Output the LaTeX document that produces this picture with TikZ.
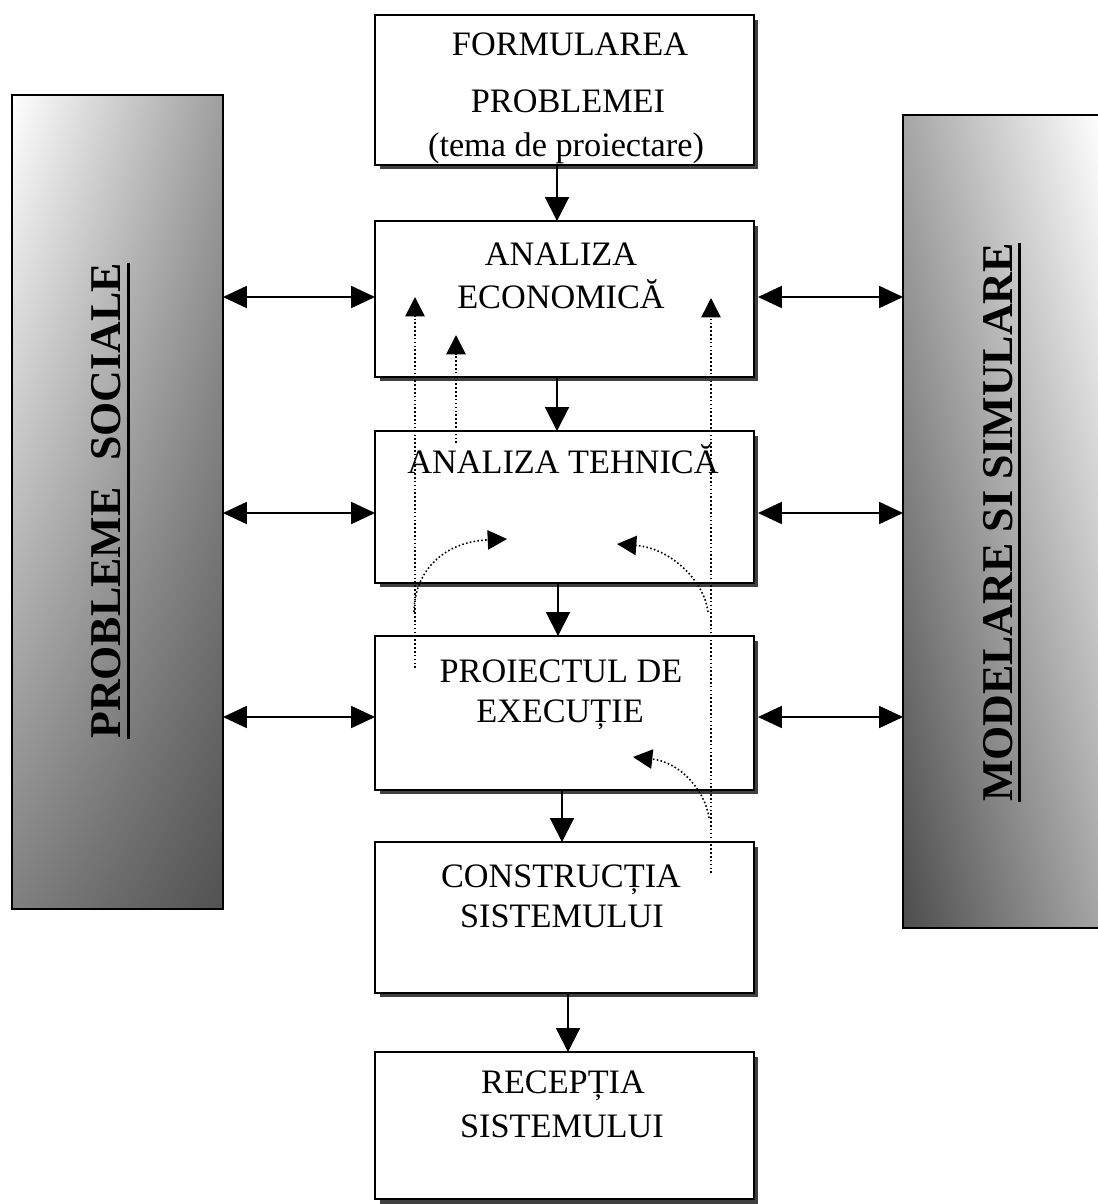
\documentclass[tikz,border=0pt]{standalone}
\usepackage{fontspec}
\setmainfont{Liberation Serif}
\usetikzlibrary{arrows.meta,calc,shadows,shadings}

\tikzset{
  box/.style={draw, line width=1.1pt, fill=white, inner sep=0pt, outer sep=0pt,
    minimum width=7.58cm,
    general shadow={fill=black!75, shadow xshift=0.09cm, shadow yshift=-0.09cm}},
  lbl/.style={font=\fontsize{19.5pt}{24pt}\selectfont, anchor=base, inner sep=0pt},
  side/.style={font=\fontsize{25pt}{30pt}\selectfont\bfseries, anchor=base,
    inner sep=0pt, rotate=90},
  flow/.style={line width=1.1pt, -{Triangle[length=13.6pt,width=13.6pt]}},
  both/.style={line width=1.1pt,
    {Triangle[length=13.6pt,width=12.5pt]}-{Triangle[length=13.6pt,width=12.5pt]}},
  fb/.style={line width=0.9pt, dash pattern=on 0.9pt off 1.3pt,
    -{Triangle[length=11pt,width=11pt]}},
  uline/.style={line width=1.7pt}
}

\begin{document}
\begin{tikzpicture}[x=0.02cm, y=-0.02cm]
\useasboundingbox (0,0) rectangle (1098,1204);

% side panels
\node[inner sep=0pt, outer sep=0pt,
  minimum width=4.22cm, minimum height=16.28cm,
  upper left=white, upper right=black!38, lower left=black!50, lower right=black!68]
  (lp) at (117.5,502) {};
\draw[line width=1.1pt] (lp.north west) rectangle (lp.south east);
\node[inner sep=0pt, outer sep=0pt, minimum width=3.98cm, minimum height=16.26cm,
  upper left=black!35, upper right=white, lower left=black!70, lower right=black!35]
  (rp) at (1002.5,521.5) {};
\draw[line width=1.1pt] (rp.north east) -- (rp.north west) -- (rp.south west) -- (rp.south east);

\node[side] (ps) at (120,501) {PROBLEME\hspace{0.6em}SOCIALE};
\draw[uline] ($(ps.south west)+(8,0)$) -- ($(ps.south east)+(8,0)$);
\node[side] (ms) at (1012,522.5) {MODELARE SI SIMULARE};
\draw[uline] ($(ms.south west)+(7,0)$) -- ($(ms.south east)+(7,0)$);

% process boxes
\node[box, minimum height=3.00cm] (b1) at (564.5,90) {};
\node[box, minimum height=3.12cm] (b2) at (564.5,299) {};
\node[box, minimum height=3.04cm] (b3) at (564.5,507) {};
\node[box, minimum height=3.08cm] (b4) at (564.5,713) {};
\node[box, minimum height=3.02cm] (b5) at (564.5,917.5) {};
\node[box, minimum height=2.94cm] (b6) at (564.5,1125.5) {};

% box texts
\node[lbl] (t1a) at (570,55) {FORMULAREA};
\node[lbl] (t1b) at (568,112) {PROBLEMEI};
\node[lbl] (t1c) at (566,156) {(tema de proiectare)};
\node[lbl] (t2a) at (561,265) {ANALIZA};
\node[lbl] (t2b) at (561,308) {ECONOMICĂ};
\node[lbl] (t3a) at (563,473) {ANALIZA TEHNICĂ};
\node[lbl] (t4a) at (561,682) {PROIECTUL DE};
\node[lbl] (t4b) at (560,722) {EXECUȚIE};
\node[lbl] (t5a) at (561,887) {CONSTRUCȚIA};
\node[lbl] (t5b) at (562,927) {SISTEMULUI};
\node[lbl] (t6a) at (563,1093) {RECEPȚIA};
\node[lbl] (t6b) at (562,1137) {SISTEMULUI};

% main flow
\draw[flow] (b1.south -| 557,0) -- (b2.north -| 557,0);
\draw[flow] (b2.south -| 557,0) -- (b3.north -| 557,0);
\draw[flow] (b3.south -| 558,0) -- (b4.north -| 558,0);
\draw[flow] (b4.south -| 562,0) -- (b5.north -| 562,0);
\draw[flow] (b5.south -| 568,0) -- (b6.north -| 568,0);

% links with the side panels
\foreach \b/\yy in {b2/297, b3/513, b4/717}{
  \draw[both] (lp.east |- 0,\yy) -- (\b.west |- 0,\yy);
  \draw[both] ($(\b.east |- 0,\yy)+(4,0)$) -- (rp.west |- 0,\yy);
}

% feedback paths
\coordinate (f1s) at (415,668);
\coordinate (f1e) at (415,297);
\coordinate (f2s) at (456,443);
\coordinate (f2e) at (456,335);
\coordinate (f3s) at (711,873);
\coordinate (f3e) at (711,298);
\draw[fb] (f1s) -- (f1e);
\draw[fb] (f2s) -- (f2e);
\draw[fb] (f3s) -- (f3e);

\coordinate (c1s) at (414,612);
\coordinate (c1e) at (507,539);
\coordinate (c2s) at (708,612);
\coordinate (c2e) at (617,544);
\coordinate (c3s) at (709,818);
\coordinate (c3e) at (633,757);
\draw[fb] (c1s) .. controls (414,575) and (440,542) .. (c1e);
\draw[fb] (c2s) .. controls (704,580) and (670,548) .. (c2e);
\draw[fb] (c3s) .. controls (705,790) and (680,762) .. (c3e);
\end{tikzpicture}
\end{document}
